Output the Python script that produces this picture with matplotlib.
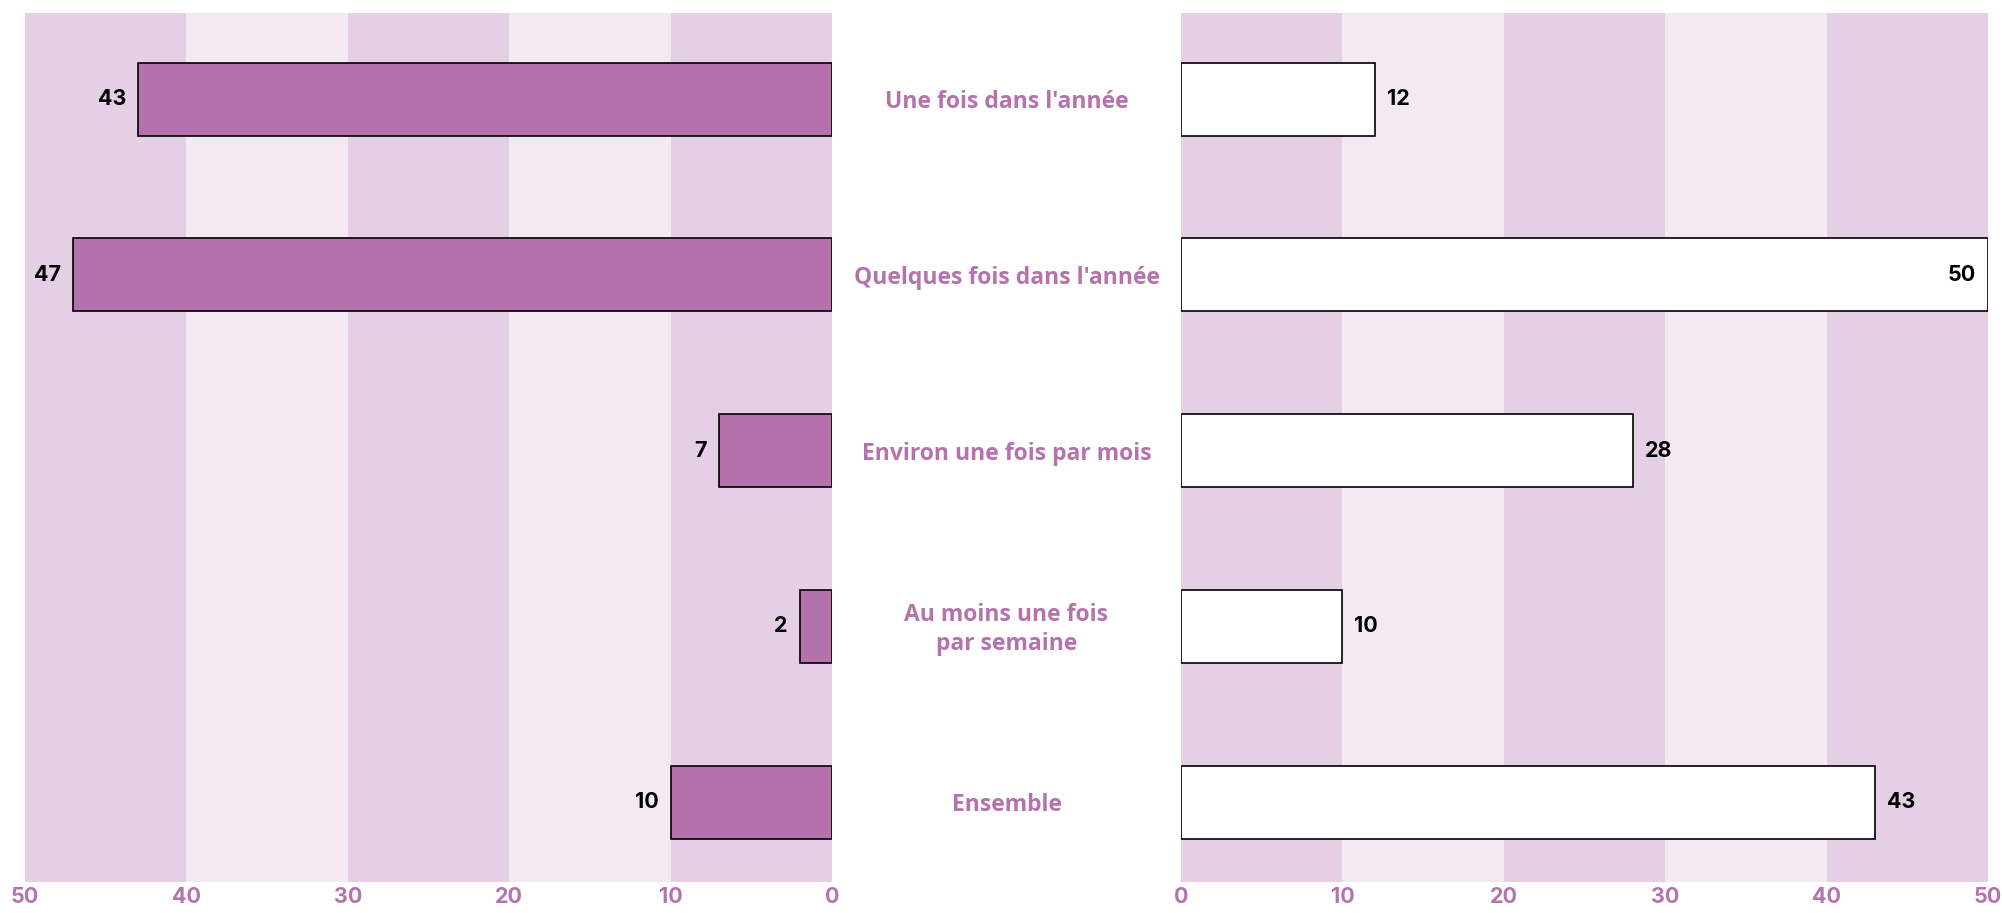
import matplotlib
matplotlib.use("Agg")
import matplotlib.pyplot as plt

# Fréquences (%) par catégorie
categories = ["Une fois dans l'année", "Quelques fois dans l'année",
              "Environ une fois par mois", "Au moins une fois\npar semaine", "Ensemble"]
gauche = [43, 47, 7, 2, 10]
droite = [12, 50, 28, 10, 43]
ticks = [0, 10, 20, 30, 40, 50]

violet = "#B573AE"
bande_fonce = "#E4CFE4"
bande_clair = "#F2E9F3"
police_num = ["Inter", "DejaVu Sans"]

fig = plt.figure(figsize=(20.02, 9.13), dpi=100)
W, H = 2002, 913
ax_g = fig.add_axes([25 / W, 31 / H, 807 / W, 869 / H])
ax_d = fig.add_axes([1181 / W, 31 / H, 807 / W, 869 / H])

y = list(range(len(categories)))

for ax, vals, fill in [(ax_g, gauche, violet), (ax_d, droite, "white")]:
    # bandes verticales alternées
    for i in range(0, 50, 10):
        ax.axvspan(i, i + 10, color=bande_fonce if (i // 10) % 2 == 0 else bande_clair, lw=0, zorder=0)
    ax.barh(y, vals, height=0.415, color=fill, edgecolor="black", linewidth=1.2, zorder=2)
    ax.set_xlim(0, 50)
    ax.set_ylim(4.455, -0.49)
    ax.set_xticks(ticks)
    ax.set_xticklabels([str(t) for t in ticks])
    for lab in ax.get_xticklabels():
        lab.set_color(violet)
        lab.set_fontsize(15.5)
        lab.set_family(police_num)
        lab.set_fontweight("bold")
    ax.tick_params(axis="x", length=0, pad=3.5)
    ax.set_yticks([])
    for s in ax.spines.values():
        s.set_visible(False)

ax_g.invert_xaxis()

# étiquettes de valeurs
def etiquette(ax, v, yi, dx, ha):
    ax.annotate(str(v), (v, yi), xytext=(dx, 0), textcoords="offset pixels",
                ha=ha, va="center", fontsize=15.5, family=police_num,
                fontweight="bold", color="black", zorder=3)

for yi, v in zip(y, gauche):
    etiquette(ax_g, v, yi, -12, "right")
for yi, v in zip(y, droite):
    if v >= 50:
        etiquette(ax_d, v, yi, -12, "right")
    else:
        etiquette(ax_d, v, yi, 12, "left")

# libellés des catégories au centre
for yi, cat in zip(y, categories):
    ax_g.annotate(cat, (0, yi), xytext=((1181 + 832) / 2 - 832, -3), textcoords="offset pixels",
                  ha="center", va="center", fontsize=16.5, family=["Open Sans", "DejaVu Sans"],
                  fontweight="bold", color=violet, linespacing=1.25, annotation_clip=False)

fig.savefig("out.png", dpi=100, facecolor="white")
